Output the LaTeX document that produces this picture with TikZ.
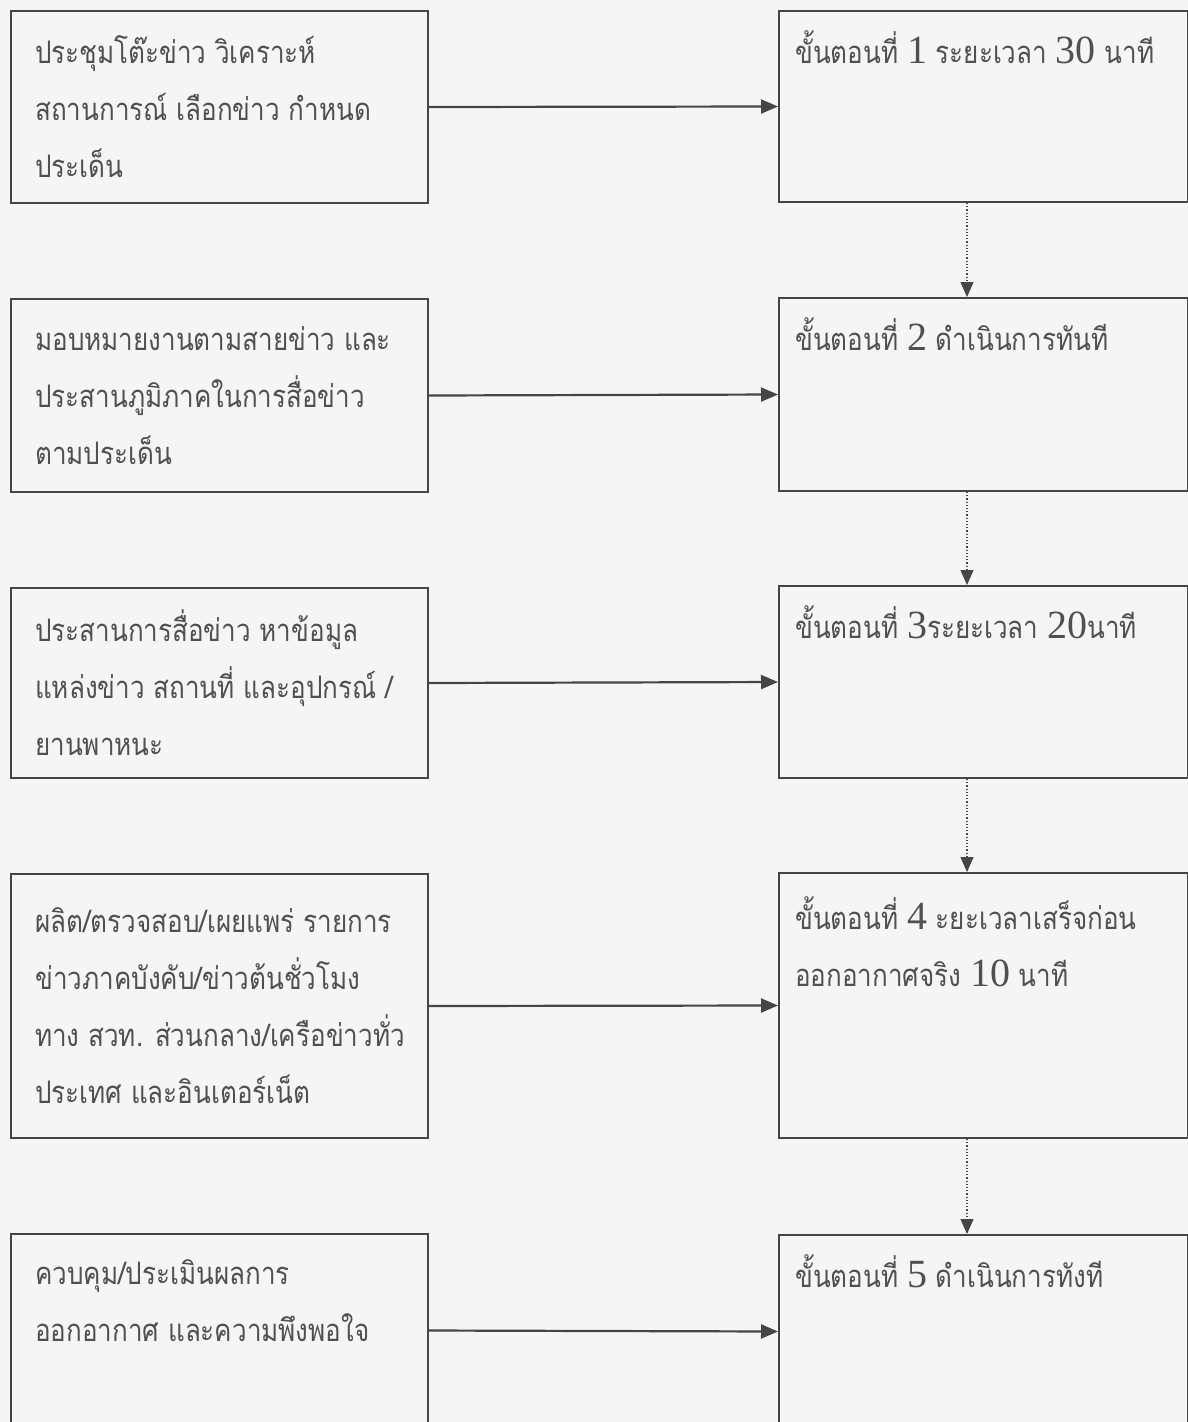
\documentclass[tikz,border=0pt]{standalone}
\usepackage{fontspec}
\newfontfamily\thaifont[Script=Thai, FakeStretch=0.84]{Loma}
\newfontfamily\numfont{Liberation Serif}
\usetikzlibrary{arrows.meta}
\definecolor{bg}{HTML}{F5F5F5}
\definecolor{ln}{HTML}{454545}
\definecolor{tx}{HTML}{505050}
\newcommand{\nm}[1]{{\numfont\fontsize{40}{40}\selectfont #1}}
\tikzset{
  box/.style={draw=ln, line width=2pt, anchor=north west, inner sep=0pt, fill=bg},
  lbox/.style={box, minimum width=417pt},
  rbox/.style={box, minimum width=409pt},
  txt/.style={text=tx, align=left, inner sep=0pt, font=\thaifont\fontsize{31}{57}\selectfont},
  harrow/.style={draw=ln, line width=2.2pt, -{Triangle[length=17pt, width=14pt]}},
  varrow/.style={draw=ln, line width=1.2pt, dotted, -{Triangle[length=15pt, width=13pt]}}
}
\begin{document}
\begin{tikzpicture}[x=1pt, y=-1pt]
\useasboundingbox (0,0) rectangle (1188,1422);
\fill[bg] (0,0) rectangle (1188,1422);
\clip (0,0) rectangle (1188,1422);
% left boxes
\node[lbox, minimum height=192pt] (L1) at (10,10) {};
\node[lbox, minimum height=193pt] (L2) at (10,298) {};
\node[lbox, minimum height=190pt] (L3) at (10,587) {};
\node[lbox, minimum height=264pt] (L4) at (10,873) {};
\node[lbox, minimum height=193pt] (L5) at (10,1233) {};
% right boxes
\node[rbox, minimum height=191pt] (R1) at (778,10) {};
\node[rbox, minimum height=193pt] (R2) at (778,297) {};
\node[rbox, minimum height=192pt] (R3) at (778,585) {};
\node[rbox, minimum height=265pt] (R4) at (778,872) {};
\node[rbox, minimum height=193pt] (R5) at (778,1234) {};
% left texts
\node[txt, anchor=west] (t1) at ([xshift=25pt]L1.west) {ประชุมโต๊ะข่าว วิเคราะห์\\สถานการณ์ เลือกข่าว กำหนด\\ประเด็น};
\node[txt, anchor=west] (t2) at ([xshift=25pt]L2.west) {มอบหมายงานตามสายข่าว และ\\ประสานภูมิภาคในการสื่อข่าว\\ตามประเด็น};
\node[txt, anchor=west] (t3) at ([xshift=25pt]L3.west) {ประสานการสื่อข่าว หาข้อมูล\\แหล่งข่าว สถานที่ และอุปกรณ์ /\\ยานพาหนะ};
\node[txt, anchor=west] (t4) at ([xshift=25pt]L4.west) {ผลิต/ตรวจสอบ/เผยแพร่ รายการ\\ข่าวภาคบังคับ/ข่าวต้นชั่วโมง\\ทาง สวท. ส่วนกลาง/เครือข่าวทั่ว\\ประเทศ และอินเตอร์เน็ต};
\node[txt, anchor=north west] (t5) at ([xshift=25pt, yshift=-26pt]L5.north west) {ควบคุม/ประเมินผลการ\\ออกอากาศ และความพึงพอใจ};
% right texts
\node[txt, anchor=north west] (s1) at ([xshift=17pt, yshift=-20pt]R1.north west) {ขั้นตอนที่ \nm{1} ระยะเวลา \nm{30} นาที};
\node[txt, anchor=north west] (s2) at ([xshift=17pt, yshift=-20pt]R2.north west) {ขั้นตอนที่ \nm{2} ดำเนินการทันที};
\node[txt, anchor=north west] (s3) at ([xshift=17pt, yshift=-20pt]R3.north west) {ขั้นตอนที่ \nm{3}ระยะเวลา \nm{20}นาที};
\node[txt, anchor=north west] (s4) at ([xshift=17pt, yshift=-24pt]R4.north west) {ขั้นตอนที่ \nm{4} ะยะเวลาเสร็จก่อน\\ออกอากาศจริง \nm{10} นาที};
\node[txt, anchor=north west] (s5) at ([xshift=17pt, yshift=-20pt]R5.north west) {ขั้นตอนที่ \nm{5} ดำเนินการทังที};
% horizontal arrows
\draw[harrow] (L1.east) -- (R1.west);
\draw[harrow] (L2.east) -- (R2.west);
\draw[harrow] (L3.east) -- (R3.west);
\draw[harrow] (L4.east) -- (R4.west);
\draw[harrow] (L5.east) -- (R5.west);
% dotted arrows
\draw[varrow] ([xshift=189pt]R1.south west) -- ([xshift=189pt]R2.north west);
\draw[varrow] ([xshift=189pt]R2.south west) -- ([xshift=189pt]R3.north west);
\draw[varrow] ([xshift=189pt]R3.south west) -- ([xshift=189pt]R4.north west);
\draw[varrow] ([xshift=189pt]R4.south west) -- ([xshift=189pt]R5.north west);
\end{tikzpicture}
\end{document}
